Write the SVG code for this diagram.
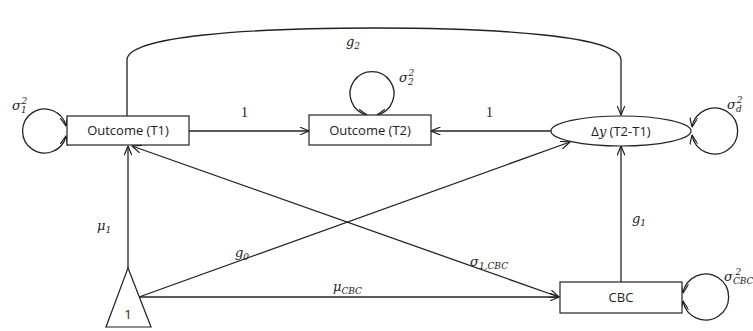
<svg xmlns="http://www.w3.org/2000/svg" width="753" height="331" viewBox="0 0 753 331">
<defs>
<marker id="arr" viewBox="0 0 10 8" refX="9.5" refY="4" markerWidth="10" markerHeight="8" markerUnits="userSpaceOnUse" orient="auto-start-reverse">
<path d="M0,0 L9.5,4 L0,8" fill="none" stroke="#222" stroke-width="1.2"/>
</marker>
</defs>
<style>
.box{fill:#fff;stroke:#222;stroke-width:1.2}
.ln{fill:none;stroke:#222;stroke-width:1.3}
.lab{font-family:"Open Sans","Liberation Sans",sans-serif;font-size:13px;fill:#222;text-anchor:middle}
.m{font-family:"DejaVu Serif","Liberation Serif",serif;font-style:italic;font-size:13px;fill:#222}
.s{font-size:9px}
.one{font-family:"Liberation Serif",serif;font-size:14px;fill:#222}
</style>
<g id="connectors">
<path class="ln" d="M127,116 L127,60 C127,36 250,28 374,28 C498,28 621,36 621,60 L621,115" marker-end="url(#arr)"/>
<line class="ln" x1="189" y1="131" x2="309" y2="131" marker-end="url(#arr)"/>
<line class="ln" x1="552" y1="131" x2="431" y2="131" marker-end="url(#arr)"/>
<line class="ln" x1="128" y1="268" x2="128" y2="146" marker-end="url(#arr)"/>
<line class="ln" x1="139" y1="297" x2="559" y2="297" marker-end="url(#arr)"/>
<line class="ln" x1="139" y1="297" x2="570" y2="142" marker-end="url(#arr)"/>
<line class="ln" x1="132" y1="146" x2="559" y2="297" marker-start="url(#arr)" marker-end="url(#arr)"/>
<line class="ln" x1="621" y1="282" x2="621" y2="146" marker-end="url(#arr)"/>
<path class="ln" d="M66,126 A22,22 0 1,0 66,136" marker-start="url(#arr)" marker-end="url(#arr)"/>
<path class="ln" d="M367,115 A22,22 0 1,1 377,115" marker-start="url(#arr)" marker-end="url(#arr)"/>
<path class="ln" d="M692,127 A23,23 0 1,1 692,135" marker-start="url(#arr)" marker-end="url(#arr)"/>
<path class="ln" d="M683,293 A23,23 0 1,1 683,301" marker-start="url(#arr)" marker-end="url(#arr)"/>
</g>
<g id="outcome_t1">
<rect class="box" x="67" y="116" width="122" height="29"/>
<text class="lab" x="128" y="135">Outcome (T1)</text>
</g>
<g id="outcome_t2">
<rect class="box" x="309" y="115" width="122" height="30"/>
<text class="lab" x="370" y="135">Outcome (T2)</text>
</g>
<g id="delta_y">
<ellipse class="box" cx="621" cy="131" rx="70" ry="15"/>
<text class="lab" x="621" y="136">Δ<tspan font-family="DejaVu Serif,serif" font-style="italic">y</tspan> (T2-T1)</text>
</g>
<g id="cbc">
<rect class="box" x="560" y="282" width="122" height="31"/>
<text class="lab" x="621" y="302">CBC</text>
</g>
<g id="constant">
<polygon class="box" points="128,268 106,327 151,327"/>
<text class="lab" x="128" y="319">1</text>
</g>
<g id="labels">
<text class="m" x="346" y="46">g<tspan class="s" dy="3">2</tspan></text>
<text class="one" x="241" y="117">1</text>
<text class="one" x="486" y="117">1</text>
<text class="m" x="12" y="110">σ<tspan class="s" dy="3">1</tspan><tspan class="s" dx="-5" dy="-9">2</tspan></text>
<text class="m" x="399" y="82">σ<tspan class="s" dy="3">2</tspan><tspan class="s" dx="-5" dy="-9">2</tspan></text>
<text class="m" x="727" y="109">σ<tspan class="s" dy="3">d</tspan><tspan class="s" dx="-5" dy="-9">2</tspan></text>
<text class="m" x="724" y="281">σ<tspan class="s" font-size="8" dy="3">CBC</tspan><tspan class="s" dx="-18" dy="-9">2</tspan></text>
<text class="m" x="97" y="230">μ<tspan class="s" dy="3">1</tspan></text>
<text class="m" x="235" y="257">g<tspan class="s" dy="3">0</tspan></text>
<text class="m" x="333" y="291">μ<tspan class="s" dy="3">CBC</tspan></text>
<text class="m" x="470" y="266">σ<tspan class="s" dy="3">1,CBC</tspan></text>
<text class="m" x="632" y="223">g<tspan class="s" dy="3">1</tspan></text>
</g>
</svg>
